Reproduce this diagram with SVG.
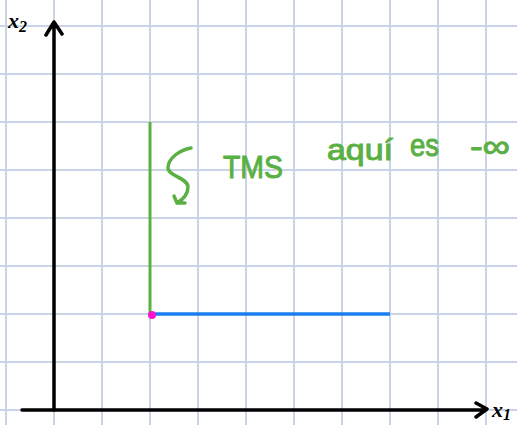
<svg xmlns="http://www.w3.org/2000/svg" width="517" height="425" viewBox="0 0 517 425">
<defs>
<style>
.grid{stroke:#c9d5e6;stroke-width:2;fill:none}
.axis{stroke:#000;stroke-width:3.5;fill:none;stroke-linecap:round;stroke-linejoin:round}
.lbl{font-family:"Liberation Serif",serif;font-style:italic;font-weight:bold;fill:#000}
.note{font-family:"Liberation Sans",sans-serif;fill:#5bb044;stroke:#5bb044;stroke-width:1}
.g{stroke:#5bb044;fill:none;stroke-linecap:round;stroke-linejoin:round}
</style>
</defs>
<rect width="517" height="425" fill="#fff"/>
<g id="grid" class="grid">
<path d="M6 0V425M54 0V425M102 0V425M150 0V425M198 0V425M246 0V425M294 0V425M342 0V425M390 0V425M438 0V425M486 0V425"/>
<path d="M0 26H517M0 74H517M0 122H517M0 170H517M0 218H517M0 266H517M0 314H517M0 362H517M0 410H517"/>
</g>
<g id="connectors">
<path class="axis" d="M22 410H486M476 403L487 409L476 417"/>
<path class="axis" d="M54 410V22M46 35L54 22L62 34"/>
<line x1="150" y1="122" x2="150" y2="314" stroke="#5bb044" stroke-width="3"/>
<line x1="150" y1="314" x2="390" y2="314" stroke="#1a7ef0" stroke-width="3.5"/>
<path class="g" stroke-width="3.5" d="M191 148C180 150 168 158 168 168C168 176 188 178 188 187C188 195 182 200 177 203M174 196L177 203L185 203"/>
</g>
<g id="point"><circle cx="152" cy="315" r="4" fill="#ff10d0"/></g>
<g id="x2-label"><text class="lbl" x="8" y="28" font-size="22">x<tspan font-size="16" dy="4">2</tspan></text></g>
<g id="x1-label"><text class="lbl" x="492" y="417" font-size="22">x<tspan font-size="16" dy="3">1</tspan></text></g>
<g id="note">
<text class="note" x="223" y="178" font-size="32" textLength="60" lengthAdjust="spacingAndGlyphs">TMS</text>
<text class="note" x="327" y="160" font-size="30" textLength="66" lengthAdjust="spacingAndGlyphs">aquí</text>
<text class="note" x="410" y="156" font-size="32" textLength="29" lengthAdjust="spacingAndGlyphs">es</text>
<text class="note" x="470" y="157" font-size="32" textLength="40" lengthAdjust="spacingAndGlyphs">-∞</text>
</g>
</svg>
